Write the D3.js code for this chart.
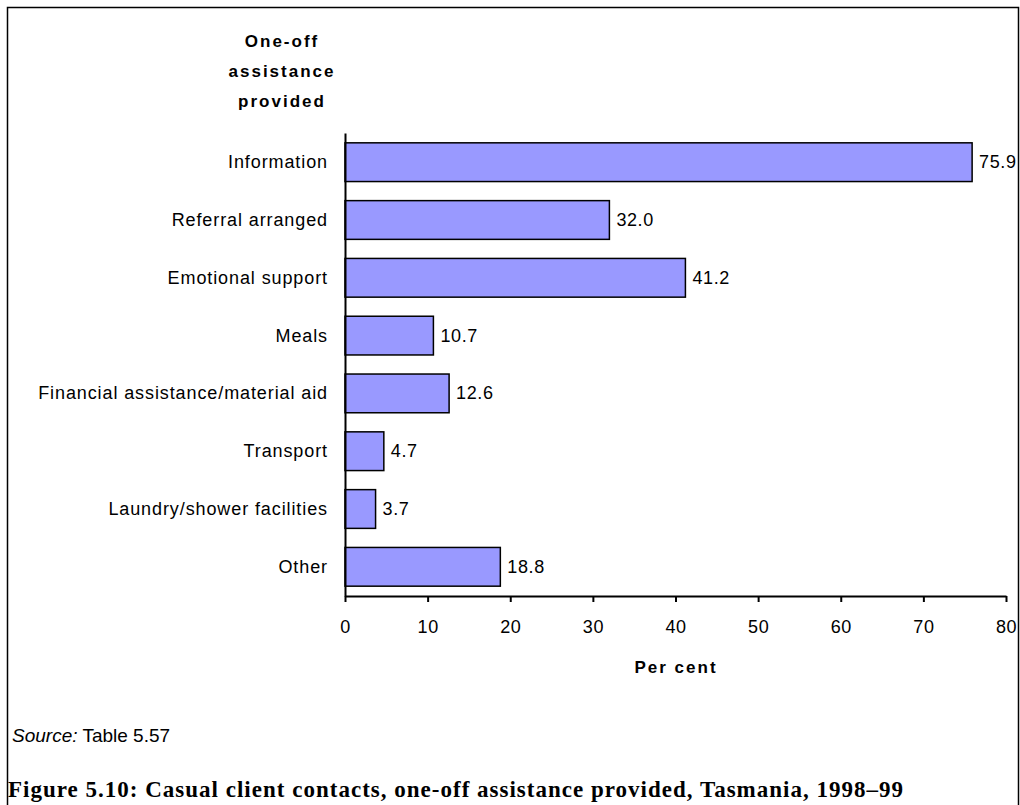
<!DOCTYPE html>
<html lang="en">

<head>
  <meta charset="UTF-8">
  <script src="https://d3js.org/d3.v7.min.js" charset="utf-8"></script>
  <title>Figure 5.10</title>
  <style>
    body { margin: 0; background: #fff; }
  </style>
</head>

<body>
  <script type="text/javascript">

    // data
    var categories = ["Information", "Referral arranged", "Emotional support", "Meals",
      "Financial assistance/material aid", "Transport", "Laundry/shower facilities", "Other"];
    var values = [75.9, 32.0, 41.2, 10.7, 12.6, 4.7, 3.7, 18.8];
    var xTicks = [0, 10, 20, 30, 40, 50, 60, 70, 80];
    var titleLines = ["One-off", "assistance", "provided"];

    var outer_w = 1020;
    var outer_h = 805;
    var sans = "'Liberation Sans', Arial, sans-serif";

    var svg = d3.select("body")
      .append("svg")
      .attr("width", outer_w)
      .attr("height", outer_h)
      .style("font-family", sans);

    // frame round the figure
    svg.append("rect")
      .attr("x", 7.5)
      .attr("y", 7.5)
      .attr("width", 1011)
      .attr("height", 830)
      .attr("fill", "none")
      .attr("stroke", "#000")
      .attr("stroke-width", 1.5);

    var xScale = d3.scaleLinear()
      .domain([0, 80])
      .range([345, 1006]);
    var yScale = d3.scaleBand()
      .domain(categories)
      .range([133, 596])
      .paddingInner(0.33)
      .paddingOuter(0.17);

    // bars
    svg.selectAll("rect.bar")
      .data(values)
      .enter()
      .append("rect")
      .attr("class", "bar")
      .attr("x", xScale(0))
      .attr("y", function (d, i) { return yScale(categories[i]); })
      .attr("width", function (d) { return xScale(d) - xScale(0); })
      .attr("height", yScale.bandwidth())
      .attr("fill", "#9999ff")
      .attr("stroke", "#000")
      .attr("stroke-width", 1.5);

    // value labels
    svg.selectAll("text.val")
      .data(values)
      .enter()
      .append("text")
      .attr("class", "val")
      .attr("x", function (d) { return xScale(d) + 7; })
      .attr("y", function (d, i) { return yScale(categories[i]) + yScale.bandwidth() / 2 + 6; })
      .attr("font-size", 18)
      .attr("letter-spacing", 0.6)
      .text(function (d) { return d.toFixed(1); });

    // y axis: line plus category names
    var yAxis = d3.axisLeft(yScale)
      .tickSizeInner(0)
      .tickSizeOuter(0)
      .tickPadding(17);
    var gy = svg.append("g")
      .attr("transform", "translate(" + xScale(0) + ",0)")
      .call(yAxis);
    gy.select(".domain").attr("stroke", "#000").attr("stroke-width", 2);
    gy.selectAll("text")
      .style("font-family", sans)
      .style("font-size", "18px")
      .attr("fill", "#000")
      .attr("letter-spacing", 0.9)
      .attr("dy", "0.33em");

    // x axis
    var xAxis = d3.axisBottom(xScale)
      .tickValues(xTicks)
      .tickSizeInner(6)
      .tickSizeOuter(0)
      .tickPadding(18);
    var gx = svg.append("g")
      .attr("transform", "translate(0,596)")
      .call(xAxis);
    gx.select(".domain").attr("stroke", "#000").attr("stroke-width", 2);
    gx.selectAll("line").attr("stroke", "#000").attr("stroke-width", 2);
    gx.selectAll("text")
      .style("font-family", sans)
      .style("font-size", "18px")
      .attr("fill", "#000")
      .attr("letter-spacing", 0.6);

    // axis titles
    svg.selectAll("text.ttl")
      .data(titleLines)
      .enter()
      .append("text")
      .attr("class", "ttl")
      .attr("x", 282)
      .attr("y", function (d, i) { return 47 + i * 30; })
      .attr("text-anchor", "middle")
      .attr("font-size", 17)
      .attr("font-weight", "bold")
      .attr("letter-spacing", 2)
      .text(function (d) { return d; });

    svg.append("text")
      .attr("x", 676)
      .attr("y", 673)
      .attr("text-anchor", "middle")
      .attr("font-size", 17)
      .attr("font-weight", "bold")
      .attr("letter-spacing", 2)
      .text("Per cent");

    // source note
    var src = svg.append("text")
      .attr("x", 12)
      .attr("y", 742)
      .attr("font-size", 19);
    src.append("tspan").attr("font-style", "italic").text("Source:");
    src.append("tspan").text(" Table 5.57");

    // caption
    svg.append("text")
      .attr("x", 8)
      .attr("y", 797)
      .style("font-family", "'Liberation Serif', 'DejaVu Serif', serif")
      .attr("font-size", 23)
      .attr("font-weight", "bold")
      .attr("textLength", 895)
      .attr("lengthAdjust", "spacing")
      .text("Figure 5.10: Casual client contacts, one-off assistance provided, Tasmania, 1998\u201399");

  </script>
</body>

</html>
